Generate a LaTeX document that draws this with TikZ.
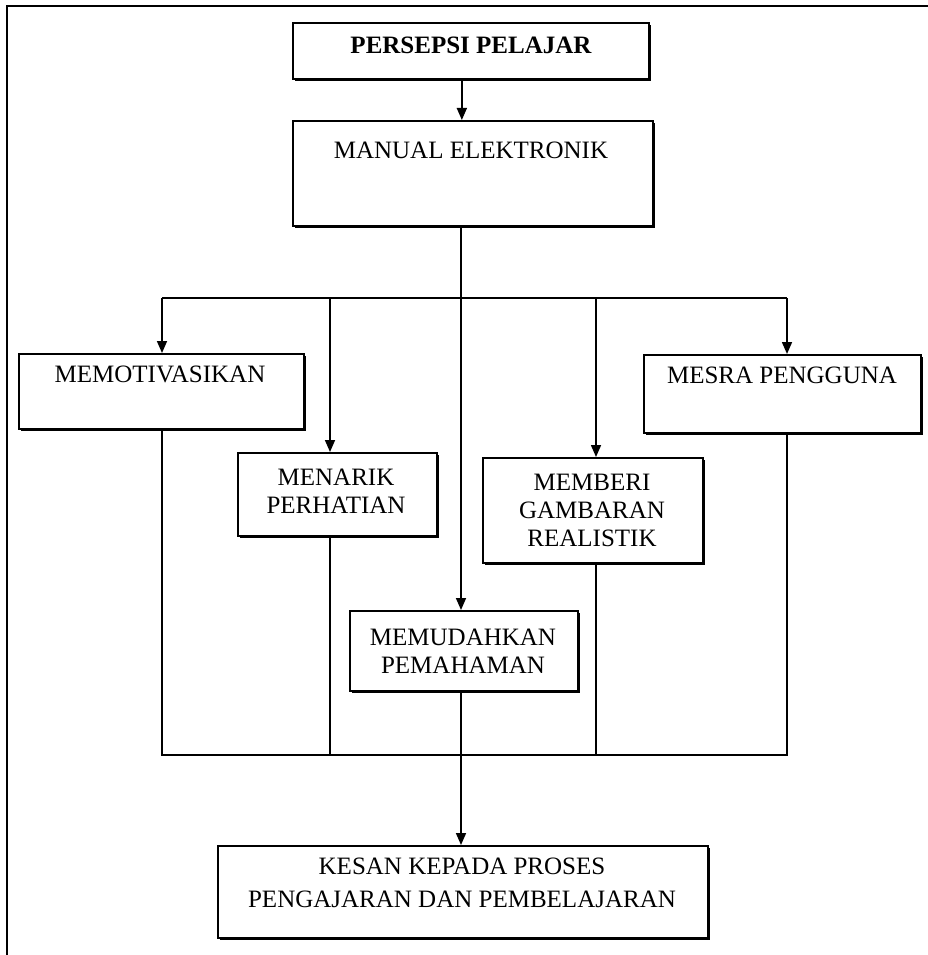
\documentclass[tikz,border=0pt]{standalone}
\usepackage{fontspec}
\setmainfont{Liberation Serif}
\usetikzlibrary{arrows.meta,shadows}
\begin{document}
\begin{tikzpicture}[x=1pt,y=-1pt,
  box/.style={draw, line width=1.7pt, fill=white, rectangle, inner sep=0pt, anchor=north west,
    drop shadow={shadow xshift=2.4pt, shadow yshift=-2.4pt, opacity=1, fill=black}},
  lbl/.style={font=\fontsize{25}{28}\selectfont, align=center, inner sep=0pt},
  conn/.style={line width=1.6pt},
  arr/.style={conn, -{Triangle[length=12pt,width=10pt]}}]
\useasboundingbox (0,0) rectangle (928,955);
% outer frame
\draw[line width=1.8pt] (7,955) -- (7,6) -- (928,6);
% boxes
\node[box, minimum width=356pt, minimum height=56pt] (pers) at (292,22) {};
\node[lbl, font=\bfseries\fontsize{25}{28}\selectfont] (persT) at (471,45) {PERSEPSI PELAJAR};
\node[box, minimum width=360pt, minimum height=105pt] (man) at (292,120) {};
\node[lbl] (manT) at (471,150) {MANUAL ELEKTRONIK};
\node[box, minimum width=285pt, minimum height=75pt] (mot) at (18,353) {};
\node[lbl] (motT) at (160,374) {MEMOTIVASIKAN};
\node[box, minimum width=199pt, minimum height=83pt] (men) at (237,452) {};
\node[lbl] (menT) at (336,491) {MENARIK\\PERHATIAN};
\node[box, minimum width=220pt, minimum height=105pt] (memb) at (482,457) {};
\node[lbl] (membT) at (592,510) {MEMBERI\\GAMBARAN\\REALISTIK};
\node[box, minimum width=277pt, minimum height=78pt] (mesra) at (643,354) {};
\node[lbl] (mesraT) at (782,375) {MESRA PENGGUNA};
\node[box, minimum width=228pt, minimum height=80pt] (memu) at (349,610) {};
\node[lbl] (memuT) at (463,651) {MEMUDAHKAN\\PEMAHAMAN};
\node[box, minimum width=490pt, minimum height=92pt] (kesan) at (217,845) {};
\node[lbl, font=\fontsize{25}{33}\selectfont] (kesanT) at (462,883) {KESAN KEPADA PROSES\\PENGAJARAN DAN PEMBELAJARAN};
% branch coordinates
\coordinate (hub) at (461,298);
\coordinate (bL) at (162,298);
\coordinate (bML) at (330,298);
\coordinate (bMR) at (596,298);
\coordinate (bR) at (787,298);
\coordinate (cL) at (162,755);
\coordinate (cR) at (787,755);
% connectors
\draw[arr] ([xshift=-9pt]pers.south) -- ([xshift=-9pt]pers.south |- man.north);
\draw[arr] (hub |- man.south) -- (hub |- memu.north);
\draw[conn] (bL) -- (bR);
\draw[arr] (bL) -- (bL |- mot.north);
\draw[arr] (bML) -- (bML |- men.north);
\draw[arr] (bMR) -- (bMR |- memb.north);
\draw[arr] (bR) -- (bR |- mesra.north);
\draw[conn] (bL |- mot.south) -- (cL) -- (cR) -- (bR |- mesra.south);
\draw[conn] (bML |- men.south) -- (bML |- cL);
\draw[conn] (bMR |- memb.south) -- (bMR |- cL);
\draw[arr] (hub |- memu.south) -- (hub |- kesan.north);
\end{tikzpicture}
\end{document}
